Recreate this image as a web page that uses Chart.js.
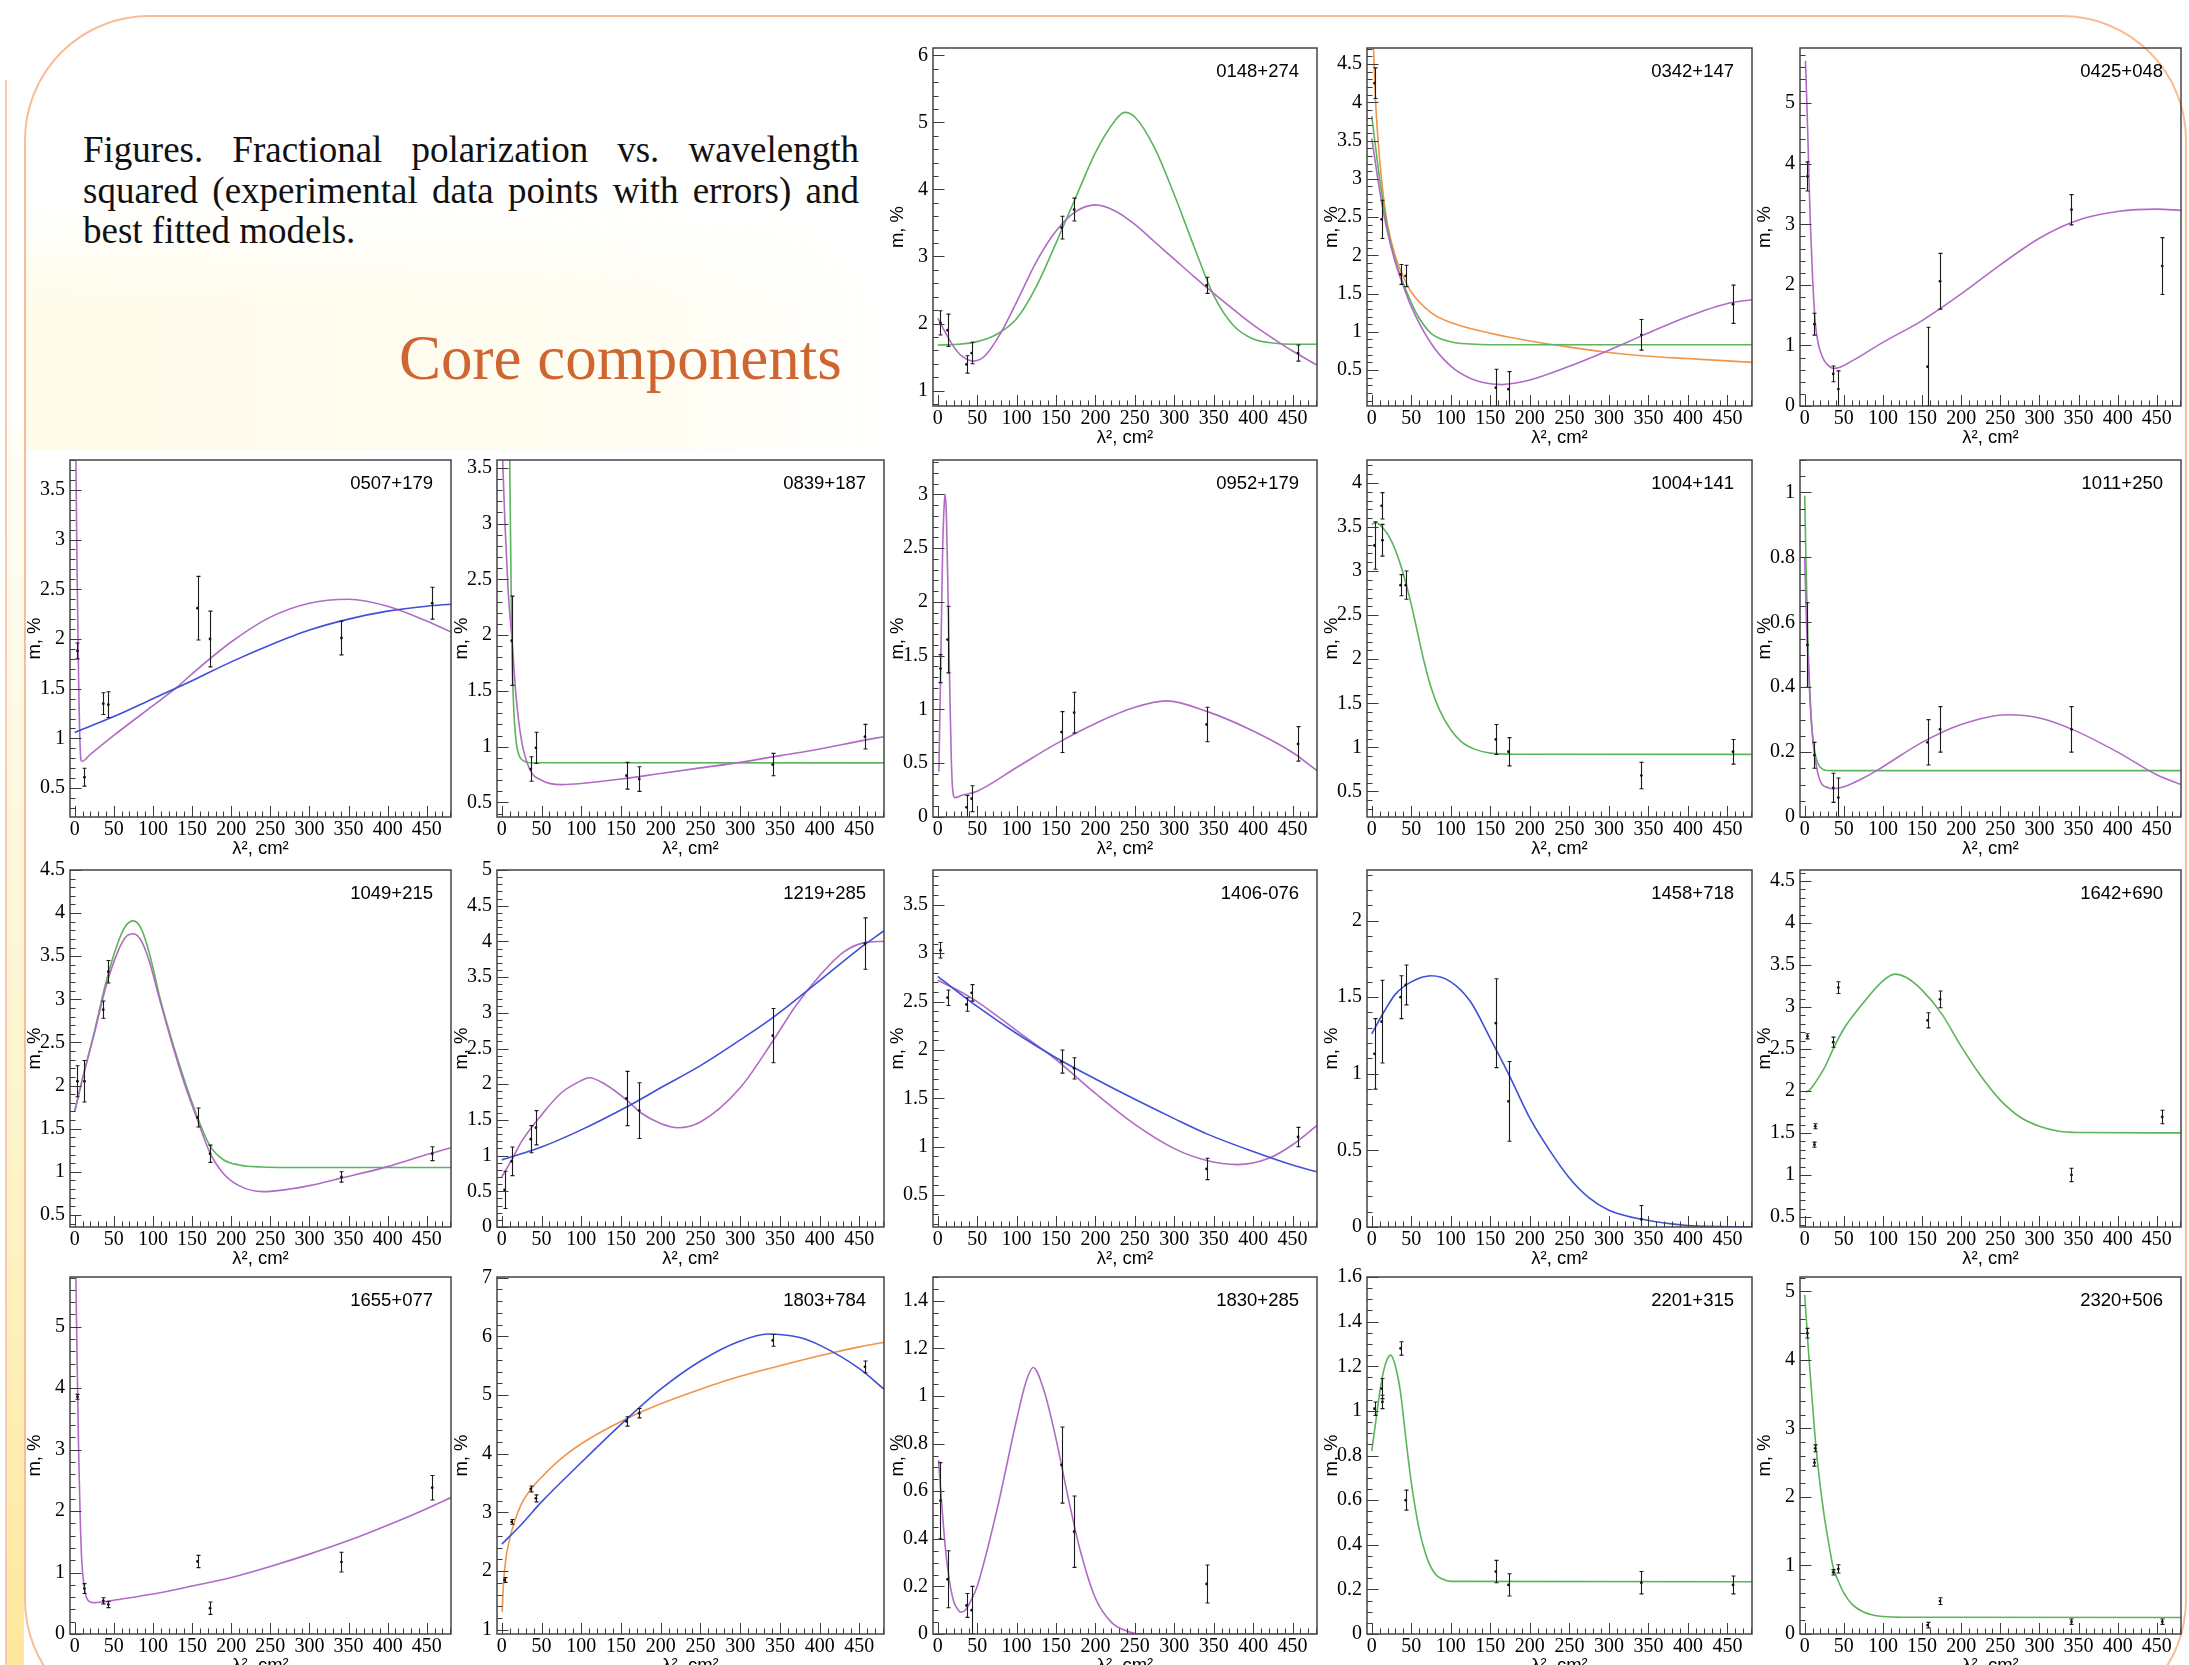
<!DOCTYPE html>
<html>
<head>
<meta charset="utf-8">
<script src="https://cdn.jsdelivr.net/npm/chart.js@4.4.0/dist/chart.umd.min.js"></script>
<style>
  html, body { margin: 0; padding: 0; }
  body { width: 2189px; height: 1665px; overflow: hidden; position: relative; background: #fff; }
  .deco { position: absolute; box-sizing: border-box; }
  #outerline { left: 5px; top: 80px; width: 2px; height: 1600px; background: #f9c9aa; }
  #strip { left: 7px; top: 430px; width: 17px; height: 1240px; background: linear-gradient(#fffdf6, #fff4cc 55%, #ffe79c); }
  #slide { left: 24px; top: 15px; width: 2163px; height: 1710px; border: 2px solid #f8bd96; border-radius: 125px; }
  #cream { left: 26px; top: 200px; width: 880px; height: 250px; background: linear-gradient(90deg, rgba(255,251,232,0.9), rgba(255,251,232,0.6) 70%, rgba(255,251,232,0)); -webkit-mask-image: linear-gradient(rgba(0,0,0,0), #000 40%); mask-image: linear-gradient(rgba(0,0,0,0), #000 40%); }
  #caption { position: absolute; left: 83px; top: 130px; width: 776px; font: 37px "Liberation Serif", "Times New Roman", serif; color: #111; }
  #caption div { height: 40.5px; line-height: 40.5px; white-space: nowrap; }
  #caption .j { text-align: justify; text-align-last: justify; }
  #heading { position: absolute; left: 399px; top: 327px; font: 63px/63px "Liberation Serif", "Times New Roman", serif; color: #cf6530; white-space: nowrap; }
  canvas.panel { position: absolute; }
</style>
</head>
<body>
<div class="deco" id="outerline"></div>
<div class="deco" id="strip"></div>
<div class="deco" id="cream"></div>
<div class="deco" id="slide"></div>
<div id="caption">
  <div class="j">Figures. Fractional polarization vs. wavelength</div>
  <div class="j">squared (experimental data points with errors) and</div>
  <div>best fitted models.</div>
</div>
<div id="heading">Core components</div>

<script>
// Shared axis values
const X_MIN = -6;
const X_MAX = 481;
const X_TICKS = [0, 50, 100, 150, 200, 250, 300, 350, 400, 450];
const LAM2 = [3.5, 12.5, 13.5, 36.5, 43, 157, 173, 341, 457];

// 0148+274
const M_0148 = [2.01, 1.9, null, 1.39, 1.56, 3.43, 3.70, 2.57, 1.56];
const DM_0148 = [0.18, 0.24, null, 0.13, 0.16, 0.17, 0.17, 0.12, 0.12];
const YT_0148 = [1, 2, 3, 4, 5, 6];
const GREEN_0148 = [[0, 1.68], [25, 1.69], [50, 1.73], [75, 1.84], [100, 2.07], [125, 2.55], [150, 3.2], [175, 3.88], [200, 4.55], [225, 5.03], [237, 5.15], [250, 5.08], [275, 4.62], [300, 3.92], [325, 3.15], [350, 2.42], [375, 1.97], [400, 1.77], [425, 1.71], [450, 1.69], [481, 1.69]];
const PURPLE_0148 = [[0, 2.08], [10, 1.86], [20, 1.66], [30, 1.52], [45, 1.44], [60, 1.52], [80, 1.86], [100, 2.32], [125, 2.92], [150, 3.38], [175, 3.67], [200, 3.77], [225, 3.68], [250, 3.48], [275, 3.22], [300, 2.96], [325, 2.7], [350, 2.45], [375, 2.21], [400, 1.98], [425, 1.78], [450, 1.59], [481, 1.38]];

// 0342+147
const M_0342 = [4.25, 2.47, null, 1.75, 1.73, 0.27, 0.25, 0.96, 1.36];
const DM_0342 = [0.2, 0.25, null, 0.13, 0.14, 0.24, 0.23, 0.2, 0.25];
const YT_0342 = [0.5, 1, 1.5, 2, 2.5, 3, 3.5, 4, 4.5];
const GREEN_0342 = [[0, 3.82], [5, 3.4], [10, 3.0], [20, 2.35], [30, 1.93], [40, 1.63], [50, 1.38], [60, 1.18], [75, 0.98], [100, 0.87], [125, 0.84], [150, 0.83], [481, 0.83]];
const ORANGE_0342 = [[2, 4.8], [4, 4.2], [6, 3.8], [10, 3.25], [15, 2.75], [20, 2.4], [30, 1.98], [40, 1.72], [50, 1.52], [75, 1.25], [100, 1.12], [150, 0.98], [200, 0.88], [250, 0.8], [300, 0.73], [350, 0.68], [400, 0.65], [450, 0.62], [481, 0.6]];
const PURPLE_0342 = [[0, 3.53], [10, 2.85], [20, 2.3], [30, 1.9], [40, 1.6], [50, 1.33], [75, 0.85], [100, 0.55], [125, 0.39], [150, 0.32], [165, 0.31], [175, 0.32], [200, 0.37], [250, 0.55], [300, 0.76], [342, 0.95], [400, 1.2], [450, 1.37], [481, 1.42]];

// 0425+048
const M_0425 = [3.79, 1.35, null, 0.53, 0.28, 0.65, 2.06, 3.24, 2.31];
const DM_0425 = [0.24, 0.18, null, 0.13, 0.3, 0.65, 0.46, 0.25, 0.47];
const YT_0425 = [0, 1, 2, 3, 4, 5];
const PURPLE_0425 = [[1, 5.7], [3, 4.9], [5, 4.0], [7, 3.1], [10, 2.15], [13.5, 1.38], [17, 1.05], [20, 0.9], [25, 0.75], [30, 0.67], [37, 0.62], [45, 0.64], [60, 0.74], [100, 1.05], [150, 1.41], [200, 1.85], [250, 2.33], [300, 2.77], [350, 3.07], [400, 3.21], [450, 3.25], [481, 3.23]];

// 0507+179
const M_0507 = [1.88, 0.61, null, 1.35, 1.34, 2.31, 2.0, 2.01, 2.36];
const DM_0507 = [0.08, 0.09, null, 0.11, 0.13, 0.32, 0.28, 0.17, 0.16];
const YT_0507 = [0.5, 1, 1.5, 2, 2.5, 3, 3.5];
const BLUE_0507 = [[0, 1.06], [50, 1.22], [100, 1.4], [150, 1.58], [200, 1.77], [250, 1.94], [300, 2.09], [350, 2.2], [400, 2.28], [450, 2.33], [481, 2.35]];
const PURPLE_0507 = [[1.5, 3.85], [3, 2.7], [5, 1.6], [7, 0.9], [9, 0.77], [20, 0.84], [50, 1.03], [100, 1.33], [130, 1.51], [150, 1.65], [200, 1.97], [250, 2.22], [300, 2.36], [350, 2.4], [400, 2.33], [450, 2.18], [481, 2.07]];

// 0839+187
const M_0839 = [null, 1.95, null, 0.8, 0.99, 0.74, 0.71, 0.84, 1.09];
const DM_0839 = [null, 0.4, null, 0.11, 0.14, 0.12, 0.11, 0.1, 0.11];
const YT_0839 = [0.5, 1, 1.5, 2, 2.5, 3, 3.5];
const GREEN_0839 = [[10, 3.6], [11, 2.9], [12, 2.3], [13, 1.8], [15, 1.35], [18, 1.05], [22, 0.92], [28, 0.87], [35, 0.856], [481, 0.855]];
const PURPLE_0839 = [[1, 3.6], [4, 3.0], [8, 2.4], [13, 1.95], [18, 1.45], [25, 1.05], [35, 0.8], [50, 0.7], [75, 0.66], [100, 0.67], [150, 0.71], [200, 0.76], [250, 0.81], [300, 0.86], [350, 0.92], [400, 0.98], [450, 1.05], [481, 1.09]];

// 0952+179
const M_0952 = [1.38, 1.65, null, 0.09, 0.17, 0.79, 0.97, 0.86, 0.68];
const DM_0952 = [0.13, 0.31, null, 0.11, 0.12, 0.19, 0.19, 0.16, 0.16];
const YT_0952 = [0, 0.5, 1, 1.5, 2, 2.5, 3];
const PURPLE_0952 = [[1.5, 0.42], [4, 1.5], [6, 2.4], [8, 2.88], [9.5, 3.0], [11, 2.8], [13, 2.1], [15, 1.3], [17, 0.6], [19, 0.25], [22, 0.18], [30, 0.2], [50, 0.24], [100, 0.46], [150, 0.68], [200, 0.87], [250, 1.02], [290, 1.08], [342, 0.98], [400, 0.8], [450, 0.6], [481, 0.43]];

// 1004+141
const M_1004 = [3.29, 3.74, 3.35, 2.84, 2.84, 1.09, 0.95, 0.68, 0.95];
const DM_1004 = [0.27, 0.15, 0.18, 0.12, 0.16, 0.17, 0.16, 0.15, 0.14];
const YT_1004 = [0.5, 1, 1.5, 2, 2.5, 3, 3.5, 4];
const GREEN_1004 = [[0, 3.53], [5, 3.55], [15, 3.48], [25, 3.34], [35, 3.11], [43, 2.87], [50, 2.62], [58, 2.3], [66, 1.98], [75, 1.68], [86, 1.42], [100, 1.2], [114, 1.06], [130, 0.98], [150, 0.935], [180, 0.922], [481, 0.92]];

// 1011+250
const M_1011 = [0.53, 0.19, null, 0.09, 0.06, 0.23, 0.27, 0.27, null];
const DM_1011 = [0.13, 0.04, null, 0.045, 0.06, 0.07, 0.07, 0.07, null];
const YT_1011 = [0, 0.2, 0.4, 0.6, 0.8, 1];
const GREEN_1011 = [[0, 0.99], [2, 0.75], [4, 0.55], [6, 0.42], [8, 0.32], [10, 0.25], [13, 0.2], [16, 0.17], [20, 0.153], [25, 0.145], [35, 0.143], [481, 0.143]];
const PURPLE_1011 = [[0, 0.8], [2, 0.62], [4, 0.5], [7, 0.35], [10, 0.25], [14, 0.17], [20, 0.11], [30, 0.09], [37, 0.087], [50, 0.093], [75, 0.12], [100, 0.155], [150, 0.23], [200, 0.285], [260, 0.315], [300, 0.305], [342, 0.27], [400, 0.2], [450, 0.13], [481, 0.1]];

// 1049+215
const M_1049 = [2.05, 2.05, null, 2.88, 3.32, 1.63, 1.21, 0.94, 1.21];
const DM_1049 = [0.18, 0.24, null, 0.1, 0.13, 0.11, 0.1, 0.06, 0.08];
const YT_1049 = [0.5, 1, 1.5, 2, 2.5, 3, 3.5, 4, 4.5];
const GREEN_1049 = [[0, 1.7], [10, 2.08], [25, 2.62], [40, 3.2], [55, 3.65], [65, 3.85], [75, 3.91], [85, 3.82], [95, 3.55], [110, 2.98], [125, 2.5], [140, 2.07], [157, 1.63], [173, 1.3], [190, 1.14], [210, 1.08], [240, 1.055], [270, 1.05], [481, 1.05]];
const PURPLE_1049 = [[0, 1.7], [10, 2.08], [25, 2.6], [40, 3.15], [55, 3.55], [65, 3.72], [75, 3.76], [85, 3.68], [95, 3.45], [110, 2.95], [125, 2.47], [140, 2.03], [157, 1.6], [173, 1.22], [190, 0.98], [210, 0.84], [240, 0.77], [275, 0.8], [300, 0.84], [342, 0.93], [400, 1.06], [450, 1.2], [481, 1.28]];

// 1219+285
const M_1219 = [0.52, 0.92, null, 1.23, 1.39, 1.8, 1.63, 2.68, 3.97];
const DM_1219 = [0.26, 0.2, null, 0.19, 0.24, 0.38, 0.39, 0.38, 0.36];
const YT_1219 = [0, 0.5, 1, 1.5, 2, 2.5, 3, 3.5, 4, 4.5, 5];
const BLUE_1219 = [[0, 0.94], [50, 1.12], [100, 1.36], [157, 1.68], [200, 1.95], [250, 2.26], [300, 2.62], [342, 2.94], [400, 3.45], [450, 3.9], [481, 4.15]];
const PURPLE_1219 = [[0, 0.7], [13, 0.95], [25, 1.2], [50, 1.57], [75, 1.88], [100, 2.05], [110, 2.09], [130, 2.0], [157, 1.78], [175, 1.6], [200, 1.45], [222, 1.39], [250, 1.47], [300, 1.95], [342, 2.62], [370, 3.1], [400, 3.52], [430, 3.85], [460, 3.99], [481, 4.0]];

// 1406-076
const M_1406 = [3.03, 2.54, null, 2.47, 2.59, 1.88, 1.81, 0.77, 1.1];
const DM_1406 = [0.08, 0.08, null, 0.07, 0.085, 0.12, 0.11, 0.11, 0.1];
const YT_1406 = [0.5, 1, 1.5, 2, 2.5, 3, 3.5];
const BLUE_1406 = [[0, 2.76], [50, 2.45], [100, 2.17], [150, 1.92], [200, 1.7], [250, 1.49], [300, 1.29], [342, 1.13], [400, 0.95], [450, 0.81], [481, 0.74]];
const PURPLE_1406 = [[0, 2.72], [25, 2.62], [50, 2.5], [100, 2.2], [150, 1.9], [200, 1.55], [250, 1.23], [300, 0.98], [340, 0.86], [380, 0.815], [420, 0.88], [450, 1.02], [481, 1.22]];

// 1458+718
const M_1458 = [1.13, 1.34, null, 1.5, 1.58, 1.33, 0.82, 0.05, null];
const DM_1458 = [0.23, 0.27, null, 0.14, 0.13, 0.29, 0.26, 0.09, null];
const YT_1458 = [0, 0.5, 1, 1.5, 2];
const BLUE_1458 = [[0, 1.26], [15, 1.4], [30, 1.52], [50, 1.6], [75, 1.64], [100, 1.6], [125, 1.47], [150, 1.23], [173, 1.0], [200, 0.71], [225, 0.5], [250, 0.32], [275, 0.19], [300, 0.11], [342, 0.05], [400, 0.01], [481, 0.0]];

// 1642+690
const M_1642 = [2.65, 1.36, 1.58, 2.58, 3.23, 2.84, 3.09, 1.0, 1.69];
const DM_1642 = [0.03, 0.03, 0.03, 0.06, 0.07, 0.09, 0.1, 0.08, 0.08];
const YT_1642 = [0.5, 1, 1.5, 2, 2.5, 3, 3.5, 4, 4.5];
const GREEN_1642 = [[1, 1.99], [5, 2.0], [15, 2.12], [25, 2.27], [36.5, 2.5], [50, 2.74], [75, 3.05], [100, 3.31], [115, 3.39], [130, 3.35], [150, 3.2], [175, 2.92], [200, 2.53], [225, 2.18], [250, 1.89], [275, 1.69], [300, 1.58], [325, 1.52], [350, 1.505], [481, 1.5]];

// 1655+077
const M_1655 = [3.86, 0.74, null, 0.54, 0.48, 1.18, 0.42, 1.17, 2.38];
const DM_1655 = [0.04, 0.08, null, 0.05, 0.05, 0.1, 0.1, 0.16, 0.2];
const YT_1655 = [0, 1, 2, 3, 4, 5];
const PURPLE_1655 = [[1.5, 5.85], [3, 4.5], [5, 3.0], [7, 1.9], [9, 1.2], [12, 0.78], [15, 0.6], [20, 0.52], [25, 0.51], [35, 0.52], [50, 0.55], [100, 0.65], [150, 0.78], [200, 0.92], [250, 1.1], [300, 1.3], [350, 1.52], [400, 1.77], [450, 2.04], [481, 2.22]];

// 1803+784
const M_1803 = [1.85, 2.84, null, 3.4, 3.24, 4.55, 4.69, 5.93, 5.48];
const DM_1803 = [0.04, 0.04, null, 0.05, 0.06, 0.08, 0.08, 0.1, 0.1];
const YT_1803 = [1, 2, 3, 4, 5, 6, 7];
const ORANGE_1803 = [[0.5, 1.3], [2, 1.75], [5, 2.2], [10, 2.55], [15, 2.8], [25, 3.15], [40, 3.45], [50, 3.6], [75, 3.92], [100, 4.17], [150, 4.55], [200, 4.85], [250, 5.1], [300, 5.32], [350, 5.5], [400, 5.67], [450, 5.82], [481, 5.9]];
const BLUE_1803 = [[0, 2.46], [25, 2.8], [50, 3.18], [100, 3.85], [150, 4.5], [200, 5.1], [250, 5.58], [300, 5.92], [335, 6.04], [375, 5.98], [400, 5.85], [450, 5.45], [481, 5.1]];

// 1830+285
const M_1830 = [0.56, 0.23, null, 0.12, 0.1, 0.71, 0.43, 0.21, null];
const DM_1830 = [0.16, 0.12, null, 0.05, 0.1, 0.16, 0.15, 0.08, null];
const YT_1830 = [0, 0.2, 0.4, 0.6, 0.8, 1, 1.2, 1.4];
const PURPLE_1830 = [[1, 0.73], [5, 0.55], [10, 0.35], [15, 0.22], [20, 0.14], [25, 0.105], [29, 0.092], [35, 0.1], [42, 0.14], [50, 0.2], [75, 0.52], [100, 0.9], [112, 1.06], [121, 1.12], [135, 1.02], [150, 0.82], [165, 0.58], [180, 0.36], [200, 0.15], [220, 0.05], [240, 0.012], [260, 0.0], [481, 0.0]];

// 2201+315
const M_2201 = [1.01, 1.1, 1.04, 1.28, 0.6, 0.28, 0.22, 0.23, 0.22];
const DM_2201 = [0.03, 0.045, 0.03, 0.03, 0.045, 0.05, 0.05, 0.05, 0.04];
const YT_2201 = [0, 0.2, 0.4, 0.6, 0.8, 1, 1.2, 1.4, 1.6];
const GREEN_2201 = [[0, 0.82], [5, 0.95], [10, 1.08], [15, 1.18], [20, 1.235], [24, 1.25], [30, 1.2], [36.5, 1.08], [43, 0.88], [50, 0.68], [60, 0.47], [70, 0.34], [80, 0.27], [90, 0.245], [100, 0.236], [481, 0.234]];

// 2320+506
const M_2320 = [4.39, 2.5, 2.71, 0.9, 0.95, 0.13, 0.48, 0.18, 0.18];
const DM_2320 = [0.07, 0.05, 0.05, 0.04, 0.06, 0.04, 0.05, 0.04, 0.04];
const YT_2320 = [0, 1, 2, 3, 4, 5];
const GREEN_2320 = [[0, 4.95], [5, 4.1], [10, 3.35], [14, 2.78], [20, 2.15], [25, 1.72], [30, 1.37], [36.5, 0.97], [43, 0.77], [50, 0.6], [60, 0.44], [75, 0.32], [90, 0.27], [100, 0.255], [125, 0.245], [481, 0.24]];

// Fit line colours
const GREEN = "#5cb45c";
const PURPLE = "#b06cc4";
const BLUE = "#3f4fd8";
const ORANGE = "#f0954a";

// Frame layout of the panel grid (page pixels)
const ROW_TOP = [45, 457, 867, 1274];
const ROW_BOTTOM = [406, 817, 1227, 1634];
const COL_LEFT = [70, 497, 933, 1367, 1800];
const COL_RIGHT = [451, 884, 1317, 1752, 2181];
const PAD_L = 60, PAD_R = 12, PAD_T = 14, PAD_B = 50;

const PANELS = [
  { name: "0148+274", row: 0, col: 2, y: [0.77, 6.11], yt: YT_0148, m: M_0148, dm: DM_0148, fits: [[PURPLE, PURPLE_0148], [GREEN, GREEN_0148]] },
  { name: "0342+147", row: 0, col: 3, y: [0.03, 4.71], yt: YT_0342, m: M_0342, dm: DM_0342, fits: [[PURPLE, PURPLE_0342], [GREEN, GREEN_0342], [ORANGE, ORANGE_0342]] },
  { name: "0425+048", row: 0, col: 4, y: [0, 5.91], yt: YT_0425, m: M_0425, dm: DM_0425, fits: [[PURPLE, PURPLE_0425]] },
  { name: "0507+179", row: 1, col: 0, y: [0.21, 3.8], yt: YT_0507, m: M_0507, dm: DM_0507, fits: [[BLUE, BLUE_0507], [PURPLE, PURPLE_0507]] },
  { name: "0839+187", row: 1, col: 1, y: [0.37, 3.57], yt: YT_0839, m: M_0839, dm: DM_0839, fits: [[PURPLE, PURPLE_0839], [GREEN, GREEN_0839]] },
  { name: "0952+179", row: 1, col: 2, y: [0, 3.32], yt: YT_0952, m: M_0952, dm: DM_0952, fits: [[PURPLE, PURPLE_0952]] },
  { name: "1004+141", row: 1, col: 3, y: [0.21, 4.26], yt: YT_1004, m: M_1004, dm: DM_1004, fits: [[GREEN, GREEN_1004]] },
  { name: "1011+250", row: 1, col: 4, y: [0, 1.1], yt: YT_1011, m: M_1011, dm: DM_1011, fits: [[PURPLE, PURPLE_1011], [GREEN, GREEN_1011]] },
  { name: "1049+215", row: 2, col: 0, y: [0.36, 4.5], yt: YT_1049, m: M_1049, dm: DM_1049, fits: [[PURPLE, PURPLE_1049], [GREEN, GREEN_1049]] },
  { name: "1219+285", row: 2, col: 1, y: [0, 5], yt: YT_1219, m: M_1219, dm: DM_1219, fits: [[BLUE, BLUE_1219], [PURPLE, PURPLE_1219]] },
  { name: "1406-076", row: 2, col: 2, y: [0.17, 3.86], yt: YT_1406, m: M_1406, dm: DM_1406, fits: [[BLUE, BLUE_1406], [PURPLE, PURPLE_1406]] },
  { name: "1458+718", row: 2, col: 3, y: [0, 2.33], yt: YT_1458, m: M_1458, dm: DM_1458, fits: [[BLUE, BLUE_1458]] },
  { name: "1642+690", row: 2, col: 4, y: [0.38, 4.63], yt: YT_1642, m: M_1642, dm: DM_1642, fits: [[GREEN, GREEN_1642]] },
  { name: "1655+077", row: 3, col: 0, y: [0, 5.81], yt: YT_1655, m: M_1655, dm: DM_1655, fits: [[PURPLE, PURPLE_1655]] },
  { name: "1803+784", row: 3, col: 1, y: [0.93, 7.01], yt: YT_1803, m: M_1803, dm: DM_1803, fits: [[BLUE, BLUE_1803], [ORANGE, ORANGE_1803]] },
  { name: "1830+285", row: 3, col: 2, y: [0, 1.5], yt: YT_1830, m: M_1830, dm: DM_1830, fits: [[PURPLE, PURPLE_1830]] },
  { name: "2201+315", row: 3, col: 3, y: [0, 1.6], yt: YT_2201, m: M_2201, dm: DM_2201, fits: [[GREEN, GREEN_2201]] },
  { name: "2320+506", row: 3, col: 4, y: [0, 5.21], yt: YT_2320, m: M_2320, dm: DM_2320, fits: [[GREEN, GREEN_2320]] },
];

const TICK_FONT = { family: '"Liberation Serif", "Times New Roman", serif', size: 20 };
const LABEL_FONT = { family: '"Liberation Sans", Arial, sans-serif', size: 18.5 };

function fmtTick(v) {
  return String(Math.round(v * 100) / 100);
}

// ROOT-like look: inward ticks, closed frame, error bars and the source name.
const rootStyle = {
  id: "rootStyle",
  afterDatasetsDraw(chart) {
    const { ctx, chartArea: a, scales: { x, y } } = chart;
    ctx.save();
    ctx.beginPath();
    ctx.rect(a.left, a.top, a.right - a.left, a.bottom - a.top);
    ctx.clip();
    ctx.strokeStyle = "#1a1a1a";
    ctx.lineWidth = 1.1;
    chart.data.datasets.forEach((ds) => {
      if (!ds.errorBars) return;
      ds.data.forEach((d) => {
        const px = Math.round(x.getPixelForValue(d.x)) + 0.5;
        const y1 = y.getPixelForValue(d.y + d.e);
        const y2 = y.getPixelForValue(d.y - d.e);
        ctx.beginPath();
        ctx.moveTo(px, y1); ctx.lineTo(px, y2);
        ctx.moveTo(px - 2, y1); ctx.lineTo(px + 2, y1);
        ctx.moveTo(px - 2, y2); ctx.lineTo(px + 2, y2);
        ctx.stroke();
      });
    });
    ctx.restore();
  },
  afterDraw(chart, args, opts) {
    const { ctx, chartArea: a, scales: { x, y } } = chart;
    ctx.save();
    ctx.strokeStyle = "#3a3a3a";
    ctx.lineWidth = 1;
    ctx.beginPath();
    for (let v = 0; v <= X_MAX; v += 10) {
      const px = Math.round(x.getPixelForValue(v)) + 0.5;
      const len = v % 50 === 0 ? 11 : 5.5;
      ctx.moveTo(px, a.bottom);
      ctx.lineTo(px, a.bottom - len);
    }
    const yt = opts.yTicks;
    const step = yt[1] - yt[0];
    const minor = step / (Math.abs(step - 0.2) < 1e-9 ? 4 : 5);
    for (let k = Math.ceil((y.min - 1e-9) / minor); k * minor <= y.max + 1e-9; k++) {
      const v = k * minor;
      const isMajor = Math.abs(v / step - Math.round(v / step)) < 1e-6;
      const py = Math.round(y.getPixelForValue(v)) + 0.5;
      ctx.moveTo(a.left, py);
      ctx.lineTo(a.left + (isMajor ? 11.5 : 5.5), py);
    }
    ctx.stroke();
    ctx.lineWidth = 1.5;
    ctx.strokeStyle = "#444";
    ctx.strokeRect(a.left, a.top, a.right - a.left, a.bottom - a.top);
    ctx.fillStyle = "#000";
    ctx.font = '18.5px "Liberation Sans", Arial, sans-serif';
    ctx.textAlign = "right";
    ctx.textBaseline = "middle";
    ctx.fillText(opts.text, a.right - 18, a.top + 24);
    ctx.restore();
  },
};

function buildPanel(p) {
  const l = COL_LEFT[p.col], r = COL_RIGHT[p.col];
  const t = ROW_TOP[p.row], b = ROW_BOTTOM[p.row];
  const cv = document.createElement("canvas");
  cv.className = "panel";
  cv.width = r - l + PAD_L + PAD_R;
  cv.height = b - t + PAD_T + PAD_B;
  cv.style.left = (l - PAD_L) + "px";
  cv.style.top = (t - PAD_T) + "px";
  document.body.appendChild(cv);

  const points = [];
  LAM2.forEach((lx, i) => {
    if (p.m[i] !== null) points.push({ x: lx, y: p.m[i], e: p.dm[i] });
  });

  const datasets = [
    {
      data: points,
      errorBars: true,
      showLine: false,
      pointRadius: 1.4,
      pointBackgroundColor: "#111",
      pointBorderWidth: 0,
    },
  ];
  p.fits.forEach(([color, pts]) => {
    datasets.push({
      data: pts.map(([fx, fy]) => ({ x: fx, y: fy })),
      showLine: true,
      pointRadius: 0,
      borderColor: color,
      borderWidth: 1.6,
      cubicInterpolationMode: "monotone",
      fill: false,
    });
  });

  new Chart(cv, {
    type: "scatter",
    data: { datasets },
    options: {
      responsive: false,
      animation: false,
      events: [],
      layout: { padding: { top: PAD_T, right: PAD_R, left: 0, bottom: 0 } },
      plugins: {
        legend: { display: false },
        tooltip: { enabled: false },
        rootStyle: { text: p.name, yTicks: p.yt },
      },
      scales: {
        x: {
          type: "linear",
          min: X_MIN,
          max: X_MAX,
          afterBuildTicks: (s) => { s.ticks = X_TICKS.map((v) => ({ value: v })); },
          afterFit: (s) => { s.height = PAD_B; },
          grid: { display: false, drawTicks: false },
          border: { display: false },
          ticks: { padding: 1, autoSkip: false, maxRotation: 0, minRotation: 0, color: "#000", font: TICK_FONT, callback: fmtTick },
          title: { display: true, text: "λ², cm²", color: "#000", font: LABEL_FONT, padding: { top: 0, bottom: 7 } },
        },
        y: {
          type: "linear",
          min: p.y[0],
          max: p.y[1],
          afterBuildTicks: (s) => { s.ticks = p.yt.map((v) => ({ value: v })); },
          afterFit: (s) => { s.width = PAD_L; },
          grid: { display: false, drawTicks: false },
          border: { display: false },
          ticks: { padding: 5, autoSkip: false, color: "#000", font: TICK_FONT, callback: fmtTick },
          title: { display: true, text: "m, %", color: "#000", font: LABEL_FONT, padding: { top: 14, bottom: 0 } },
        },
      },
    },
    plugins: [rootStyle],
  });
}

PANELS.forEach(buildPanel);
</script>
</body>
</html>
